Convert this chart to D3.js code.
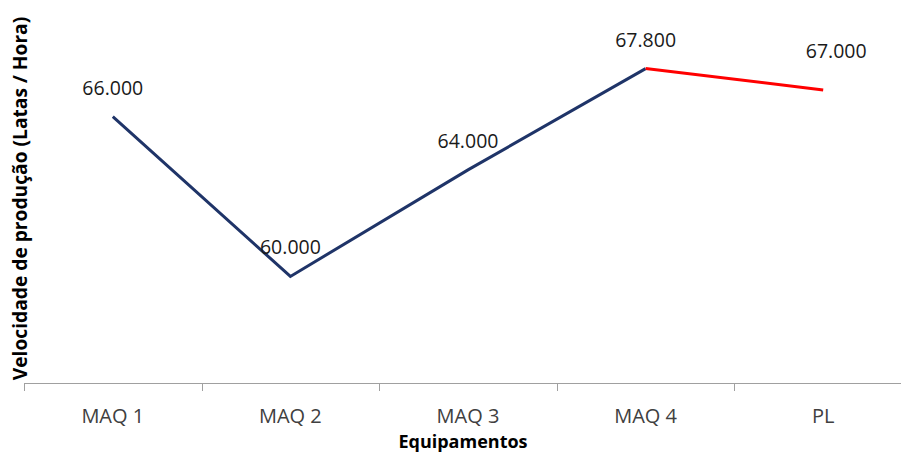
<!DOCTYPE html>
<html>
<head>
<meta charset="utf-8">
<script src="https://cdn.jsdelivr.net/npm/d3@7"></script>
<style>
  html, body { margin: 0; padding: 0; background: #fff; }
  svg { display: block; }
</style>
</head>
<body>
<svg id="chart" width="901" height="454"></svg>
<script>
// Production speed per piece of equipment (cans / hour)
const categories = ["MAQ 1", "MAQ 2", "MAQ 3", "MAQ 4", "PL"];
const speeds = [66000, 60000, 64000, 67800, 67000];
const yDomain = [56000, 70000];

const svg = d3.select("#chart");
const margin = { left: 24, right: -11, top: 10, bottom: 71 };
const W = 901, H = 454;

const x = d3.scaleBand()
  .domain(categories)
  .range([margin.left, W - margin.right])
  .padding(0);

const y = d3.scaleLinear()
  .domain(yDomain)
  .range([H - margin.bottom, margin.top]);

const fmt = v => d3.format(",.0f")(v).replace(/,/g, ".");
const font = "'Open Sans', 'Noto Sans', sans-serif";

// X axis with ticks on the category boundaries
const axisY = H - margin.bottom;
const g = svg.append("g");
g.append("line")
  .attr("x1", margin.left).attr("x2", W - margin.right)
  .attr("y1", axisY + 0.5).attr("y2", axisY + 0.5)
  .attr("stroke", "#a0a0a0").attr("stroke-width", 1);

const bounds = categories.map(c => x(c)).concat([x(categories[categories.length - 1]) + x.bandwidth()]);
g.selectAll("line.tick").data(bounds).join("line")
  .attr("class", "tick")
  .attr("x1", d => Math.round(d) + 0.5).attr("x2", d => Math.round(d) + 0.5)
  .attr("y1", axisY).attr("y2", axisY + 8)
  .attr("stroke", "#a0a0a0").attr("stroke-width", 1);

g.selectAll("text.cat").data(categories).join("text")
  .attr("class", "cat")
  .attr("x", d => x(d) + x.bandwidth() / 2)
  .attr("y", axisY + 40)
  .attr("text-anchor", "middle")
  .attr("font-family", font)
  .attr("font-size", 20)
  .attr("fill", "#404040")
  .text(d => d);

// Axis titles
svg.append("text")
  .attr("x", 463)
  .attr("y", 448)
  .attr("text-anchor", "middle")
  .attr("font-family", font)
  .attr("font-size", 18)
  .attr("font-weight", "bold")
  .attr("fill", "#000")
  .text("Equipamentos");

svg.append("text")
  .attr("transform", "translate(27,198.5) rotate(-90)")
  .attr("text-anchor", "middle")
  .attr("font-family", font)
  .attr("font-size", 19.2)
  .attr("font-weight", "bold")
  .attr("fill", "#000")
  .text("Velocidade de produção (Latas / Hora)");

// Series line: machines in navy, last segment to PL in red
const pts = categories.map((c, i) => [x(c) + x.bandwidth() / 2, y(speeds[i])]);
const line = d3.line();
svg.append("path")
  .attr("d", line(pts.slice(0, 4)))
  .attr("fill", "none")
  .attr("stroke", "#1f3468")
  .attr("stroke-width", 3)
  .attr("stroke-linejoin", "miter");
svg.append("path")
  .attr("d", line(pts.slice(3)))
  .attr("fill", "none")
  .attr("stroke", "#ff0000")
  .attr("stroke-width", 3);

// Data labels above each point
svg.selectAll("text.val").data(categories).join("text")
  .attr("class", "val")
  .attr("x", (c, i) => pts[i][0] + (i === categories.length - 1 ? 13 : 0))
  .attr("y", (c, i) => pts[i][1] - (i === categories.length - 1 ? 32 : 22))
  .attr("text-anchor", "middle")
  .attr("font-family", font)
  .attr("font-size", 19.5)
  .attr("fill", "#1a1a1a")
  .text((c, i) => fmt(speeds[i]));
</script>
</body>
</html>
